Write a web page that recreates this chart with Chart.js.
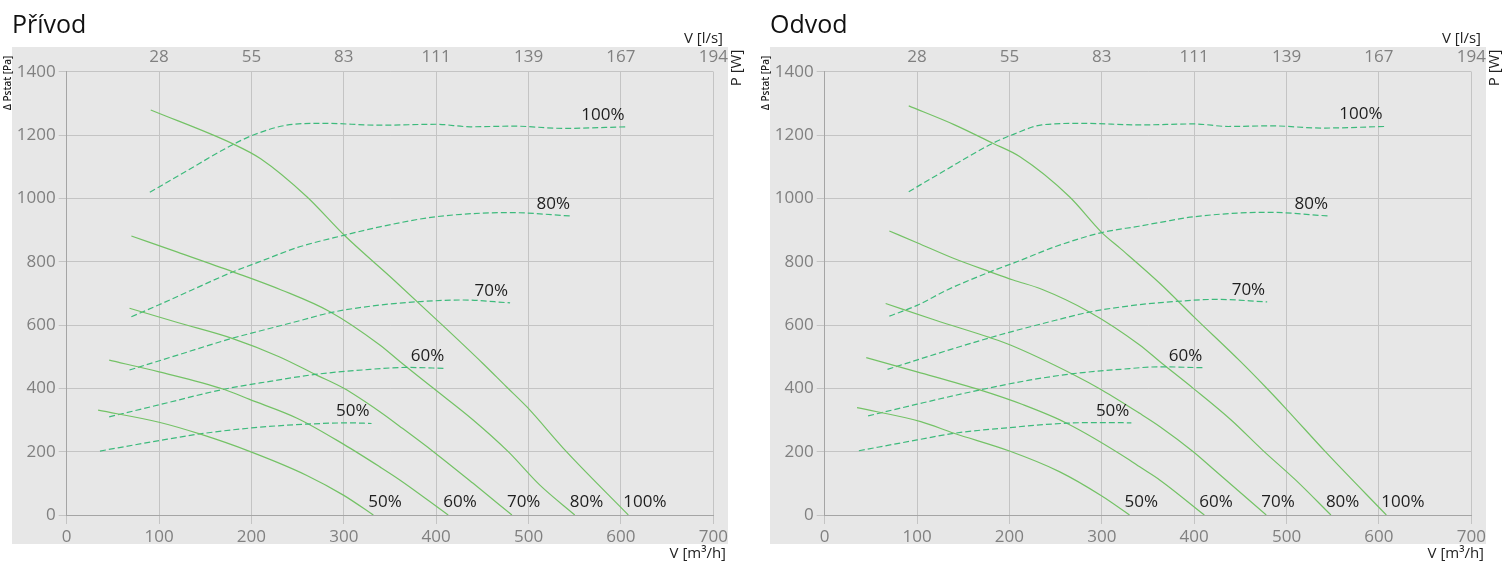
<!DOCTYPE html>
<html>
<head>
<meta charset="utf-8">
<script src="https://cdn.jsdelivr.net/npm/chart.js@4.4.1/dist/chart.umd.min.js"></script>
<style>
  html, body { margin: 0; padding: 0; background: #fff; }
  body { width: 1502px; height: 561px; position: relative; overflow: hidden; }
  .panel { position: absolute; top: 0; width: 751px; height: 561px; }
</style>
</head>
<body>
<div class="panel" style="left:0"><canvas id="privod"></canvas></div>
<div class="panel" style="left:758px"><canvas id="odvod"></canvas></div>
<script>
// Fan speed levels and top axis (l/s) tick labels
const levels = ["50%", "60%", "70%", "80%", "100%"];
const topTickLabels = ["", "28", "55", "83", "111", "139", "167", "194"];

// Přívod - static pressure curves [m3/h, Pa]
const privodPa50 = [[34, 331], [100, 293], [144, 256], [198, 201], [260, 125], [300, 62], [332, 0]];
const privodPa60 = [[46, 489], [100, 452], [170, 397], [198, 365], [250, 305], [300, 223], [339, 152], [361, 110], [413, 0]];
const privodPa70 = [[68, 653], [120, 608], [179, 558], [230, 500], [269, 444], [300, 400], [339, 326], [361, 279], [397, 200], [440, 100], [482, 0]];
const privodPa80 = [[70, 881], [120, 830], [180, 768], [233, 710], [285, 642], [339, 537], [361, 484], [397, 400], [440, 300], [478, 200], [512, 95], [550, 0]];
const privodPa100 = [[91, 1279], [180, 1172], [210, 1125], [260, 1005], [300, 885], [355, 740], [400, 618], [450, 480], [476, 405], [498, 342], [541, 200], [608, 0]];

// Přívod - power curves (dashed)
const privodW50 = [[36, 202], [100, 235], [144, 256], [200, 275], [260, 287], [307, 291], [330, 289]];
const privodW60 = [[46, 310], [100, 348], [170, 397], [220, 422], [269, 444], [320, 458], [368, 466], [411, 463]];
const privodW70 = [[68, 458], [120, 505], [179, 558], [209, 581], [250, 612], [287, 640], [339, 663], [383, 674], [429, 679], [480, 670]];
const privodW80 = [[70, 626], [100, 664], [135, 710], [180, 768], [209, 800], [250, 845], [301, 884], [339, 910], [400, 942], [480, 955], [547, 944]];
const privodW100 = [[90, 1019], [130, 1087], [180, 1170], [202, 1200], [238, 1231], [278, 1237], [339, 1231], [400, 1234], [437, 1226], [484, 1228], [538, 1221], [606, 1226]];

// Odvod - static pressure curves
const odvodPa50 = [[35, 339], [104, 295], [140, 258], [200, 202], [254, 137], [300, 60], [330, 0]];
const odvodPa60 = [[45, 497], [100, 452], [168, 395], [215, 348], [262, 290], [330, 174], [341, 152], [363, 110], [411, 0]];
const odvodPa70 = [[66, 668], [120, 615], [179, 560], [201, 537], [269, 444], [300, 395], [341, 321], [363, 279], [399, 200], [420, 147], [478, 0]];
const odvodPa80 = [[70, 897], [100, 860], [140, 810], [179, 768], [204, 742], [235, 713], [286, 642], [341, 537], [363, 484], [399, 400], [440, 300], [474, 205], [510, 110], [548, 0]];
const odvodPa100 = [[91, 1292], [140, 1233], [182, 1174], [211, 1132], [265, 1005], [300, 892], [320, 842], [363, 731], [400, 625], [450, 485], [477, 405], [499, 337], [542, 200], [608, 0]];

// Odvod - power curves (dashed)
const odvodW50 = [[37, 203], [100, 237], [140, 258], [200, 276], [262, 290], [305, 292], [332, 291]];
const odvodW60 = [[47, 313], [100, 350], [168, 395], [220, 425], [265, 445], [320, 460], [363, 468], [411, 465]];
const odvodW70 = [[68, 460], [120, 508], [179, 560], [210, 585], [250, 615], [285, 640], [340, 664], [383, 675], [424, 681], [479, 673]];
const odvodW80 = [[70, 628], [100, 662], [132, 710], [179, 768], [210, 802], [250, 848], [300, 892], [340, 912], [363, 924], [400, 942], [480, 956], [547, 944]];
const odvodW100 = [[91, 1021], [130, 1088], [182, 1174], [205, 1203], [235, 1232], [280, 1237], [340, 1232], [400, 1235], [437, 1227], [484, 1229], [538, 1222], [606, 1227]];

const solidColor = "#74c266";
const dashColor = "#3dba7c";
const font = "'Open Sans', 'DejaVu Sans', sans-serif";

function toPoints(arr) {
  return arr.map(([x, y]) => ({ x, y }));
}

function makeDatasets(pressure, power) {
  const sets = [];
  levels.forEach((lvl, i) => {
    sets.push({
      label: "Δp " + lvl, data: toPoints(pressure[i]), borderColor: solidColor,
      borderWidth: 1.2, pointRadius: 0, cubicInterpolationMode: "monotone", fill: false,
    });
    sets.push({
      label: "P " + lvl, data: toPoints(power[i]), borderColor: dashColor,
      borderWidth: 1.2, borderDash: [6, 3], pointRadius: 0, cubicInterpolationMode: "monotone", fill: false,
    });
  });
  return sets;
}

// Gray panel behind the plot
const panelBackground = {
  id: "panelBackground",
  beforeDraw(chart) {
    const ctx = chart.ctx;
    ctx.save();
    ctx.fillStyle = "#e7e7e7";
    ctx.fillRect(12, 47, 716, 497);
    ctx.restore();
  },
};

// Titles, axis names and percent labels at curve ends
const panelTexts = {
  id: "panelTexts",
  afterDraw(chart, args, opts) {
    const ctx = chart.ctx;
    const xs = chart.scales.x;
    const ys = chart.scales.y;
    ctx.save();
    ctx.fillStyle = "#111";
    ctx.font = "25px " + font;
    ctx.textAlign = "left";
    ctx.textBaseline = "alphabetic";
    ctx.fillText(opts.title, 12, 33);

    ctx.fillStyle = "#222";
    ctx.font = "15px " + font;
    ctx.textAlign = "right";
    ctx.fillText("V [l/s]", 723, 43);
    ctx.fillText("V [m³/h]", 726, 558);

    ctx.save();
    ctx.translate(741, 68);
    ctx.rotate(-Math.PI / 2);
    ctx.textAlign = "center";
    ctx.fillText("P [W]", 0, 0);
    ctx.restore();

    ctx.save();
    ctx.translate(11, 83);
    ctx.rotate(-Math.PI / 2);
    ctx.textAlign = "center";
    ctx.font = "600 10px " + font;
    ctx.fillText("Δ Pstat [Pa]", 0, 0);
    ctx.restore();

    ctx.font = "17px " + font;
    ctx.fillStyle = "#1e1e1e";
    levels.forEach((lvl, i) => {
      const pw = opts.power[i][opts.power[i].length - 1];
      ctx.textAlign = "right";
      ctx.fillText(lvl, xs.getPixelForValue(pw[0]) - 2, ys.getPixelForValue(pw[1]) - 7);
      const pa = opts.pressure[i][opts.pressure[i].length - 1];
      ctx.textAlign = "left";
      ctx.fillText(lvl, xs.getPixelForValue(pa[0]) - 5, ys.bottom - 8);
    });
    ctx.restore();
  },
};

function buildChart(canvasId, title, pressure, power) {
  const gridColor = "#c4c4c4";
  const tickColor = "#808080";
  return new Chart(document.getElementById(canvasId), {
    type: "line",
    data: { datasets: makeDatasets(pressure, power) },
    options: {
      responsive: true,
      maintainAspectRatio: false,
      animation: false,
      layout: { padding: { left: 0, right: 37.7, top: 0, bottom: 0 } },
      plugins: {
        legend: { display: false },
        tooltip: { enabled: false },
        panelTexts: { title, pressure, power },
      },
      scales: {
        x: {
          type: "linear", position: "bottom", min: 0, max: 700,
          ticks: { stepSize: 100, color: tickColor, font: { size: 17, family: font }, padding: 3 },
          grid: { color: gridColor, tickLength: 9 },
          border: { color: "#a5a5a5" },
          afterFit: (s) => { s.height = 46; },
        },
        xTop: {
          type: "linear", position: "top", min: 0, max: 700,
          ticks: {
            stepSize: 100, color: tickColor, font: { size: 17, family: font }, padding: 4,
            callback: (v, i) => topTickLabels[i],
          },
          grid: { display: false, drawTicks: false },
          border: { display: false },
          afterFit: (s) => { s.height = 71.7; },
        },
        y: {
          type: "linear", position: "left", min: 0, max: 1400,
          ticks: {
            stepSize: 200, color: tickColor, font: { size: 17, family: font }, padding: 3,
            callback: (v) => String(v),
          },
          grid: { color: gridColor, tickLength: 8 },
          border: { color: "#a5a5a5" },
          afterFit: (s) => { s.width = 66.7; },
        },
      },
    },
    plugins: [panelBackground, panelTexts],
  });
}

buildChart("privod", "Přívod",
  [privodPa50, privodPa60, privodPa70, privodPa80, privodPa100],
  [privodW50, privodW60, privodW70, privodW80, privodW100]);

buildChart("odvod", "Odvod",
  [odvodPa50, odvodPa60, odvodPa70, odvodPa80, odvodPa100],
  [odvodW50, odvodW60, odvodW70, odvodW80, odvodW100]);
</script>
</body>
</html>
